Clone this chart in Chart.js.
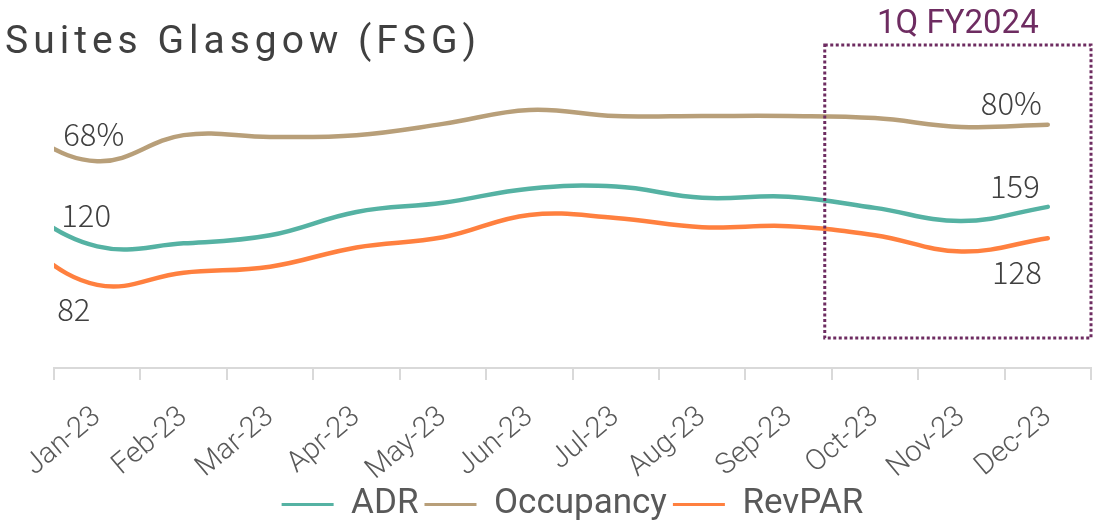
<!DOCTYPE html>
<html>
<head>
<meta charset="utf-8">
<script src="https://cdn.jsdelivr.net/npm/chart.js@4.4.1/dist/chart.umd.min.js"></script>
<style>
  html, body { margin: 0; padding: 0; background: #fff; }
  #wrap { width: 1099px; height: 521px; position: relative; }
</style>
</head>
<body>
<div id="wrap"><canvas id="fsgChart"></canvas></div>
<script>
// months (Dec-22 only feeds the line coming in from the left edge)
const months = ['Dec-22', 'Jan-23', 'Feb-23', 'Mar-23', 'Apr-23', 'May-23', 'Jun-23',
                'Jul-23', 'Aug-23', 'Sep-23', 'Oct-23', 'Nov-23', 'Dec-23'];
const adr = [163, 120, 123, 131, 154, 163, 177, 179, 168, 169, 158, 145, 159];
const occupancy = [79, 68, 76.6, 76, 76.6, 80.3, 84.9, 82.9, 82.9, 82.9, 82.2, 79.3, 80];
const revpar = [130, 82, 94, 100, 119, 129, 151, 148, 139, 140, 131, 115, 128];
const quarterMonths = ['Oct-23', 'Dec-23'];
const quarterLabel = '1Q FY2024';
const titleText = 'Suites Glasgow (FSG)';

const teal = '#55B2A3';
const tan = '#B89F79';
const orange = '#FF803F';
const purple = '#6E2C61';

// end labels: first and last visible month
const endLabels = {
  ADR: { fmt: v => String(v), first: { dx: -36, dy: -31 }, last: { dx: -8, dy: -21 } },
  Occupancy: { fmt: v => v + '%', first: { dx: -34, dy: -27 }, last: { dx: -6, dy: -22 } },
  RevPAR: { fmt: v => String(v), first: { dx: -40, dy: 24 }, last: { dx: -6, dy: 34 } }
};

const titlePlugin = {
  id: 'titleText',
  beforeDraw(chart) {
    const ctx = chart.ctx;
    ctx.save();
    ctx.font = '39px Roboto';
    ctx.letterSpacing = '5px';
    ctx.fillStyle = '#404040';
    ctx.textBaseline = 'alphabetic';
    ctx.fillText(titleText, 5, 53);
    ctx.restore();
  }
};

const labelPlugin = {
  id: 'endLabels',
  afterDatasetsDraw(chart) {
    const ctx = chart.ctx;
    const first = months.indexOf('Jan-23');
    const last = months.length - 1;
    ctx.save();
    ctx.font = '300 31px "Noto Sans CJK SC"';
    ctx.fillStyle = '#404040';
    ctx.textBaseline = 'middle';
    chart.data.datasets.forEach((ds, i) => {
      const cfg = endLabels[ds.label];
      const meta = chart.getDatasetMeta(i);
      const p0 = meta.data[first];
      const p1 = meta.data[last];
      ctx.textAlign = 'left';
      ctx.fillText(cfg.fmt(ds.data[first]), p0.x + cfg.first.dx, p0.y + cfg.first.dy);
      ctx.textAlign = 'right';
      ctx.fillText(cfg.fmt(ds.data[last]), p1.x + cfg.last.dx, p1.y + cfg.last.dy);
    });
    ctx.restore();
  }
};

const quarterPlugin = {
  id: 'quarterBox',
  afterDatasetsDraw(chart) {
    const ctx = chart.ctx;
    const x = chart.scales.x;
    const area = chart.chartArea;
    const half = (x.getPixelForValue(months.indexOf('Feb-23')) - x.getPixelForValue(months.indexOf('Jan-23'))) / 2;
    const left = x.getPixelForValue(months.indexOf(quarterMonths[0])) - half - 7;
    const right = x.getPixelForValue(months.indexOf(quarterMonths[1])) + half;
    const top = area.top - 19;
    const bottom = area.bottom - 30;
    ctx.save();
    ctx.strokeStyle = purple;
    ctx.lineWidth = 3;
    ctx.setLineDash([3, 2.5]);
    ctx.strokeRect(left, top, right - left, bottom - top);
    ctx.setLineDash([]);
    ctx.font = '33px Roboto';
    ctx.fillStyle = purple;
    ctx.textAlign = 'center';
    ctx.textBaseline = 'alphabetic';
    ctx.fillText(quarterLabel, (left + right) / 2, top - 12);
    ctx.restore();
  }
};

Chart.defaults.font.family = 'Roboto';
Chart.defaults.color = '#595959';

const lineStyle = {
  borderWidth: 4.5,
  pointRadius: 0,
  tension: 0.4,
  borderCapStyle: 'round',
  fill: false
};

new Chart(document.getElementById('fsgChart'), {
  type: 'line',
  data: {
    labels: months,
    datasets: [
      { label: 'ADR', data: adr, borderColor: teal, backgroundColor: teal, yAxisID: 'y', ...lineStyle },
      { label: 'Occupancy', data: occupancy, borderColor: tan, backgroundColor: tan, yAxisID: 'y1', ...lineStyle },
      { label: 'RevPAR', data: revpar, borderColor: orange, backgroundColor: orange, yAxisID: 'y', ...lineStyle }
    ]
  },
  options: {
    responsive: true,
    maintainAspectRatio: false,
    animation: false,
    devicePixelRatio: 1,
    layout: { padding: { top: 64, left: 54, right: 8, bottom: -11 } },
    scales: {
      x: {
        type: 'category',
        min: 'Jan-23',
        max: 'Dec-23',
        offset: true,
        grid: { display: true, drawOnChartArea: false, offset: true, color: '#D9D9D9', lineWidth: 2, tickLength: 12 },
        border: { display: true, color: '#D9D9D9', width: 2 },
        ticks: { minRotation: 40, maxRotation: 40, padding: 20, color: '#595959', font: { size: 29, weight: 300 } },
        afterFit(scale) { scale.height = 113; }
      },
      y: { display: false, min: 0, max: 300 },
      y1: { display: false, min: 0, max: 100, position: 'right' }
    },
    plugins: {
      legend: {
        position: 'bottom',
        labels: {
          boxWidth: 52,
          boxHeight: 3,
          padding: 6,
          color: '#595959',
          font: { size: 35 },
          generateLabels(chart) {
            return Chart.defaults.plugins.legend.labels.generateLabels(chart).map(l => ({ ...l, lineWidth: 0 }));
          }
        }
      },
      tooltip: { enabled: false }
    }
  },
  plugins: [titlePlugin, labelPlugin, quarterPlugin]
});
</script>
</body>
</html>
